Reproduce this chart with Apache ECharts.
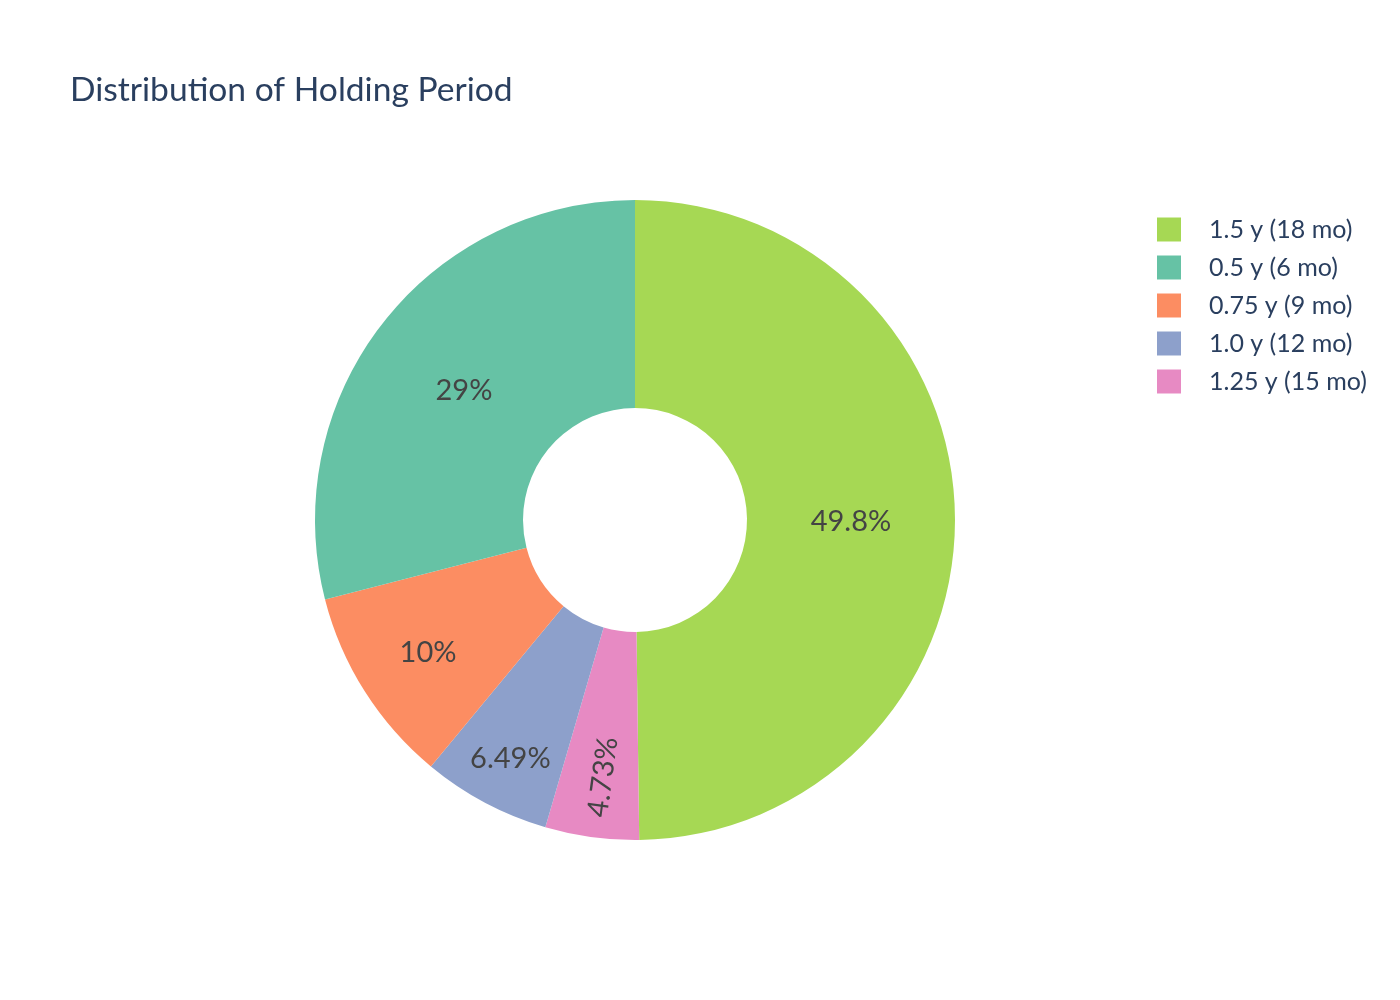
<!DOCTYPE html>
<html>
<head>
<meta charset="utf-8">
<script src="https://cdn.jsdelivr.net/npm/echarts@6/dist/echarts.min.js"></script>
<style>
  html, body { margin: 0; padding: 0; background: #fff; }
  #main { width: 1400px; height: 1000px; }
</style>
</head>
<body>
<div id="main"></div>
<script type="text/javascript">
// slices in drawing order (clockwise from 12 o'clock)
var periods = ['1.5 y (18 mo)', '1.25 y (15 mo)', '1.0 y (12 mo)', '0.75 y (9 mo)', '0.5 y (6 mo)'];
var shares = [49.8, 4.73, 6.49, 10, 29];
var colors = ['#a6d854', '#e78ac3', '#8da0cb', '#fc8d62', '#66c2a5'];
// legend order as shown
var legendOrder = ['1.5 y (18 mo)', '0.5 y (6 mo)', '0.75 y (9 mo)', '1.0 y (12 mo)', '1.25 y (15 mo)'];

var FONT = 'Lato, "Open Sans", sans-serif';
var chart = echarts.init(document.getElementById('main'));

// small slices get their text pushed outward a bit, like the original
// (the rotated one is shifted in its own rotated frame)
var labelShift = [[-3, 3], [-40, 3], [-22, 45], [-22, 15], [2, 5]];

var pieData = periods.map(function (name, i) {
  var item = {
    name: name,
    value: shares[i],
    itemStyle: { color: colors[i] },
    label: { offset: labelShift[i] }
  };
  if (shares[i] < 5) {
    item.label.rotate = 'radial';
  }
  return item;
});

var option = {
  backgroundColor: '#fff',
  animation: false,
  title: {
    text: 'Distribution of Holding Period',
    left: 65,
    top: 68,
    textStyle: { fontFamily: FONT, fontSize: 33.6, fontWeight: 'normal', color: '#2a3f5f' }
  },
  legend: {
    data: legendOrder,
    orient: 'vertical',
    left: 1152,
    top: 212,
    itemWidth: 24,
    itemHeight: 24,
    itemGap: 13,
    icon: 'rect',
    textStyle: { fontFamily: FONT, fontSize: 25, color: '#2a3f5f', padding: [0, 0, 0, 23] }
  },
  series: [{
    type: 'pie',
    center: [635, 520],
    radius: [112, 320],
    startAngle: 90,
    clockwise: true,
    data: pieData,
    label: {
      show: true,
      position: 'inside',
      formatter: function (p) { return p.value + '%'; },
      fontFamily: FONT,
      fontSize: 29,
      color: '#444'
    },
    labelLine: { show: false },
    emphasis: { disabled: true }
  }]
};

chart.setOption(option);
</script>
</body>
</html>
